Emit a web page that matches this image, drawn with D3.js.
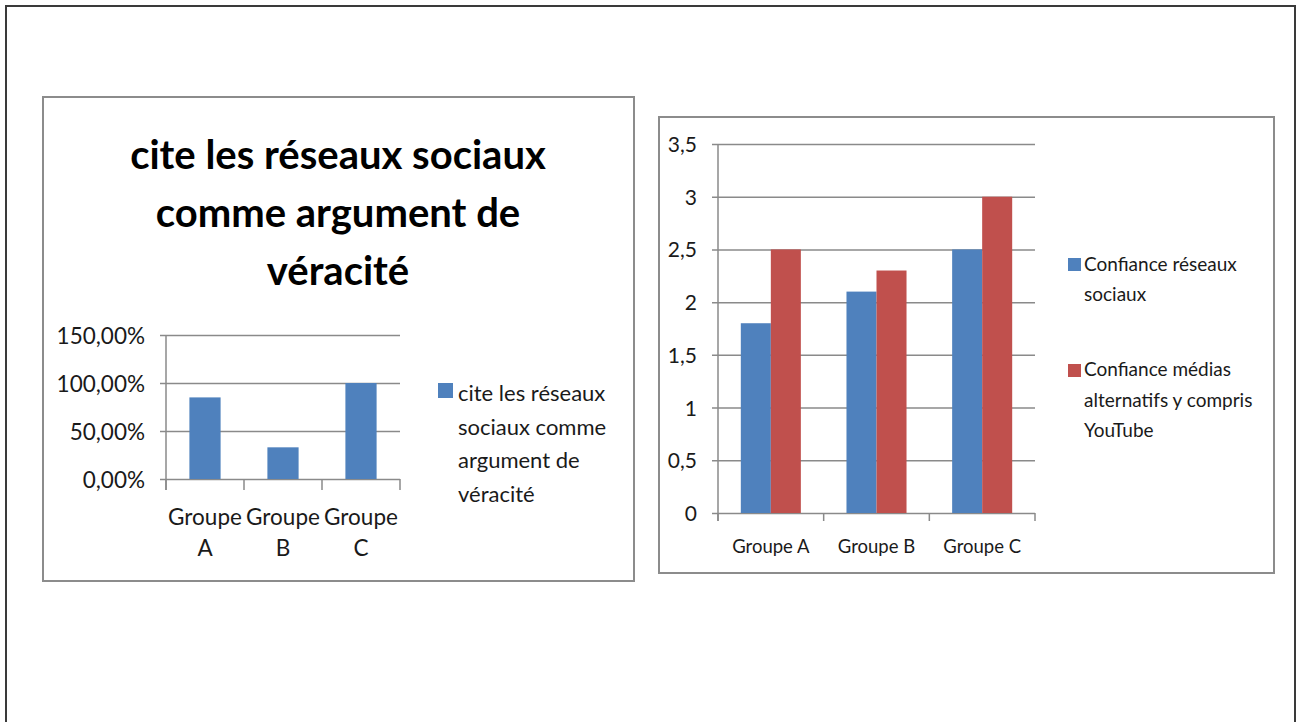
<!DOCTYPE html>
<html><head><meta charset="utf-8">
<script src="https://cdn.jsdelivr.net/npm/d3@7"></script>
<style>body{margin:0;background:#fff}svg{display:block}</style>
</head><body>
<svg id="c" width="1297" height="722"></svg>
<script>
// ---- data ----
const categoriesLeft = ["Groupe A", "Groupe B", "Groupe C"];
const citeValues = [0.85, 0.33, 1.00];
const leftTicks = [0, 0.5, 1.0, 1.5];
const leftTitle = ["cite les réseaux sociaux", "comme argument de", "véracité"];
const leftLegend = ["cite les réseaux", "sociaux comme", "argument de", "véracité"];

const categoriesRight = ["Groupe A", "Groupe B", "Groupe C"];
const confianceReseaux = [1.8, 2.1, 2.5];
const confianceMedias = [2.5, 2.3, 3.0];
const rightTicks = [0, 0.5, 1, 1.5, 2, 2.5, 3, 3.5];
const seriesNames = [["Confiance réseaux", "sociaux"], ["Confiance médias", "alternatifs y compris", "YouTube"]];

const BLUE = "#4F81BD", RED = "#C0504D", GRID = "#8a8a8a", FONT = "Lato, 'Open Sans', sans-serif", TXT = "#1a1a1a";
const fr = d3.formatLocale({decimal: ",", thousands: " ", grouping: [3], currency: ["", "€"]});

const svg = d3.select("#c");

// page border
svg.append("path").attr("d", "M6,722 V6 H1295 V722").attr("fill", "none").attr("stroke", "#3a3a3a").attr("stroke-width", 2);

// ---------- LEFT CHART ----------
svg.append("rect").attr("x", 43).attr("y", 97).attr("width", 591).attr("height", 484)
  .attr("fill", "#fff").attr("stroke", "#8c8c8c").attr("stroke-width", 2);

const titleG = svg.append("text").attr("text-anchor", "middle").attr("font-family", FONT)
  .attr("font-weight", "bold").attr("font-size", 40).attr("fill", "#000");
leftTitle.forEach((t, i) => titleG.append("tspan").attr("x", 338).attr("y", 169 + i * 58).text(t));

const yL = d3.scaleLinear().domain([0, 1.5]).range([479, 335]);
const xL = d3.scaleBand().domain(categoriesLeft).range([166, 400]);

const gL = svg.append("g");
gL.append("g").attr("transform", "translate(166,0)")
  .call(d3.axisLeft(yL).tickValues(leftTicks).tickSize(-234).tickPadding(21).tickFormat(fr.format(".2%")))
  .call(g => { g.select(".domain").remove();
    g.selectAll(".tick line").attr("stroke", GRID).attr("stroke-width", 1.5).attr("x1", -6);
    g.selectAll(".tick text").attr("font-family", FONT).attr("font-size", 22.5).attr("fill", TXT).attr("dy", "0.36em"); });
gL.append("line").attr("x1", 166).attr("x2", 166).attr("y1", yL(1.5)).attr("y2", yL(0) + 11).attr("stroke", GRID).attr("stroke-width", 1.5);
gL.selectAll("rect.bar").data(citeValues).join("rect")
  .attr("x", (d, i) => xL(categoriesLeft[i]) + xL.bandwidth() * 0.3)
  .attr("width", xL.bandwidth() * 0.4)
  .attr("y", d => yL(d)).attr("height", d => yL(0) - yL(d)).attr("fill", BLUE);
const edgesL = categoriesLeft.map(c => xL(c)).concat([xL(categoriesLeft[2]) + xL.bandwidth()]);
gL.selectAll("line.ct").data(edgesL).join("line").attr("x1", d => d).attr("x2", d => d)
  .attr("y1", yL(0)).attr("y2", yL(0) + 11).attr("stroke", GRID).attr("stroke-width", 1.5);
categoriesLeft.forEach(c => {
  const parts = c.split(" ");
  const t = gL.append("text").attr("text-anchor", "middle").attr("font-family", FONT).attr("font-size", 22.5).attr("fill", TXT);
  parts.forEach((p, j) => t.append("tspan").attr("x", xL(c) + xL.bandwidth() / 2).attr("y", 525 + j * 31).text(p));
});
svg.append("rect").attr("x", 438).attr("y", 383).attr("width", 15).attr("height", 15).attr("fill", BLUE);
const lgL = svg.append("text").attr("font-family", FONT).attr("font-size", 22).attr("fill", TXT);
leftLegend.forEach((t, i) => lgL.append("tspan").attr("x", 458).attr("y", 401 + i * 33.5).text(t));

// ---------- RIGHT CHART ----------
svg.append("rect").attr("x", 659).attr("y", 117).attr("width", 615).attr("height", 456)
  .attr("fill", "#fff").attr("stroke", "#8c8c8c").attr("stroke-width", 2);

const yR = d3.scaleLinear().domain([0, 3.5]).range([513, 144]);
const xR = d3.scaleBand().domain(categoriesRight).range([718, 1035]);
const xS = d3.scaleBand().domain([0, 1]).range([0, xR.bandwidth()]).paddingOuter(0.76).paddingInner(0);

const gR = svg.append("g");
gR.append("g").attr("transform", "translate(718,0)")
  .call(d3.axisLeft(yR).tickValues(rightTicks).tickSize(-317).tickPadding(21).tickFormat(fr.format(".1~f")))
  .call(g => { g.select(".domain").remove();
    g.selectAll(".tick line").attr("stroke", GRID).attr("stroke-width", 1.5).attr("x1", -6);
    g.selectAll(".tick text").attr("font-family", FONT).attr("font-size", 21).attr("fill", TXT).attr("dy", "0.36em"); });
gR.append("line").attr("x1", 718).attr("x2", 718).attr("y1", yR(3.5)).attr("y2", yR(0) + 8).attr("stroke", GRID).attr("stroke-width", 1.5);

[confianceReseaux, confianceMedias].forEach((vals, s) => {
  gR.selectAll("rect.s" + s).data(vals).join("rect").attr("class", "s" + s)
    .attr("x", (d, i) => xR(categoriesRight[i]) + xS(s))
    .attr("width", xS.bandwidth())
    .attr("y", d => yR(d)).attr("height", d => yR(0) - yR(d))
    .attr("fill", s === 0 ? BLUE : RED);
});
const edgesR = categoriesRight.map(c => xR(c)).concat([xR(categoriesRight[2]) + xR.bandwidth()]);
gR.selectAll("line.ct").data(edgesR).join("line").attr("x1", d => d).attr("x2", d => d)
  .attr("y1", yR(0)).attr("y2", yR(0) + 8).attr("stroke", GRID).attr("stroke-width", 1.5);
gR.selectAll("text.cat").data(categoriesRight).join("text")
  .attr("x", d => xR(d) + xR.bandwidth() / 2).attr("y", 553)
  .attr("text-anchor", "middle").attr("font-family", FONT).attr("font-size", 18.5).attr("fill", TXT).text(d => d);

const legY = [[258, [271, 301]], [364, [376, 407, 437]]];
seriesNames.forEach((lines, s) => {
  svg.append("rect").attr("x", 1068).attr("y", legY[s][0]).attr("width", 13).attr("height", 13).attr("fill", s === 0 ? BLUE : RED);
  const t = svg.append("text").attr("font-family", FONT).attr("font-size", 19).attr("fill", TXT);
  lines.forEach((l, j) => t.append("tspan").attr("x", 1084).attr("y", legY[s][1][j]).text(l));
});
</script>
</body></html>
